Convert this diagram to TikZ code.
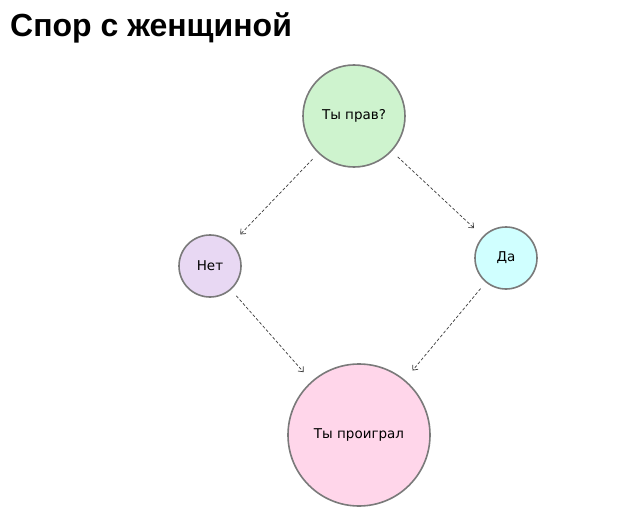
\documentclass[tikz,border=0pt]{standalone}
\usepackage{fontspec}
\setmainfont{DejaVu Sans}
\newfontfamily\titlefont{Liberation Sans}
\usetikzlibrary{arrows.meta}

\begin{document}
\begin{tikzpicture}[x=1pt,y=-1pt,
  bubble/.style={circle,draw={rgb,255:red,122;green,122;blue,122},line width=1.6pt,inner sep=0pt,font=\fontsize{13.5}{16}\selectfont},
  flow/.style={draw={rgb,255:red,60;green,60;blue,60},line width=0.7pt,dash pattern=on 3pt off 2pt,
    -{Straight Barb[length=4pt,width=7pt]},shorten <=8pt,shorten >=12pt}]
\useasboundingbox[fill=white] (0,0) rectangle (640,516);

% Title
\node[anchor=base west,inner sep=0pt,font=\titlefont\bfseries\fontsize{32}{38}\selectfont] (title) at (10,37) {Спор с женщиной};

% Question
\node[bubble,fill={rgb,255:red,206;green,243;blue,206},minimum size=102pt] (prav) at (354,116) {Ты прав?};

% Answers
\node[bubble,fill={rgb,255:red,232;green,216;blue,243},minimum size=62pt] (net) at (210,266) {Нет};
\node[bubble,fill={rgb,255:red,208;green,255;blue,255},minimum size=62pt] (da) at (506,258) {Да};

% Result
\node[bubble,fill={rgb,255:red,255;green,214;blue,234},minimum size=142pt] (proigral) at (359,435) {Ты проиграл};

% Arrows
\draw[flow] (prav) -- (net);
\draw[flow] (prav) -- (da);
\draw[flow] (net) -- (proigral);
\draw[flow] (da) -- (proigral);

\end{tikzpicture}
\end{document}
